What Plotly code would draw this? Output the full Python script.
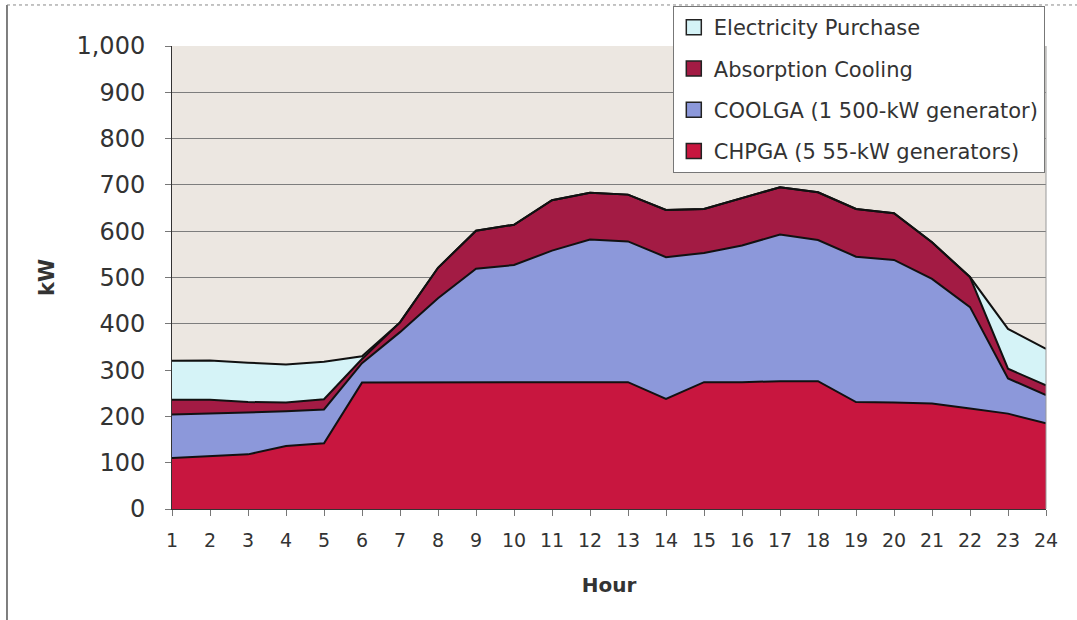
import plotly.graph_objects as go

hours = list(range(1, 25))

chpga = [110, 114, 118, 136, 142, 273, 273, 273, 273, 273, 273, 274,
         274, 238, 274, 274, 276, 276, 231, 230, 228, 217, 206, 185]
coolga = [94, 92, 90, 75, 73, 42, 109, 182, 246, 254, 285, 308,
          304, 306, 279, 295, 317, 305, 314, 308, 269, 219, 76, 61]
absorption = [32, 30, 23, 19, 22, 9, 21, 66, 82, 87, 109, 101,
              101, 102, 95, 103, 102, 103, 103, 101, 79, 65, 21, 21]
electricity = [84, 85, 85, 82, 81, 6, 0, 0, 0, 0, 0, 0,
               0, 0, 0, 0, 0, 0, 0, 0, 0, 0, 86, 79]

# bottom to top, as stacked
series = [
    ("CHPGA (5 55-kW generators)", chpga, "#c8163f"),
    ("COOLGA (1 500-kW generator)", coolga, "#8c98da"),
    ("Absorption Cooling", absorption, "#a31b44"),
    ("Electricity Purchase", electricity, "#d5f3f7"),
]

fig = go.Figure()
for name, vals, color in series:
    fig.add_trace(
        go.Scatter(
            x=hours,
            y=vals,
            name=name,
            mode="lines",
            stackgroup="one",
            showlegend=False,
            line={"color": "#111111", "width": 2},
            fillcolor=color,
            hoverinfo="x+y+name",
        )
    )

# square legend swatches, listed top to bottom
for name, vals, color in reversed(series):
    fig.add_trace(
        go.Scatter(
            x=[None],
            y=[None],
            name=name,
            mode="markers",
            legendgroup=name,
            marker={"symbol": "square", "size": 15, "color": color,
                    "line": {"color": "#222222", "width": 1.5}},
        )
    )

font_family = "DejaVu Sans, Arial"
grey_text = "#333333"

fig.update_layout(
    width=1077,
    height=620,
    margin={"l": 172, "r": 31, "t": 46, "b": 111, "autoexpand": False},
    paper_bgcolor="white",
    plot_bgcolor="#ece7e1",
    showlegend=True,
    legend={
        "x": 0.573,
        "y": 1.0864,
        "xanchor": "left",
        "yanchor": "top",
        "traceorder": "grouped",
        "tracegroupgap": 11,
        "bgcolor": "white",
        "bordercolor": "#777777",
        "borderwidth": 1,
        "font": {"family": font_family, "size": 21, "color": grey_text},
    },
    xaxis={
        "range": [1, 24],
        "tickmode": "array",
        "tickvals": hours,
        "ticktext": [str(h) for h in hours],
        "ticks": "outside",
        "ticklen": 6,
        "tickcolor": "#777777",
        "ticklabelstandoff": 8,
        "showgrid": False,
        "showline": True,
        "linecolor": "#333333",
        "tickfont": {"family": font_family, "size": 19, "color": grey_text},
        "title": {"text": "<b>Hour</b>",
                  "font": {"family": font_family, "size": 20, "color": grey_text},
                  "standoff": 28},
        "zeroline": False,
    },
    yaxis={
        "range": [0, 1000],
        "dtick": 100,
        "tickformat": ",d",
        "ticks": "outside",
        "ticklen": 6,
        "tickcolor": "#777777",
        "ticklabelstandoff": 15,
        "showgrid": True,
        "gridcolor": "#7d7d7d",
        "gridwidth": 1,
        "showline": True,
        "linecolor": "#333333",
        "tickfont": {"family": font_family, "size": 24, "color": grey_text},
        "title": {"text": "<b>kW</b>",
                  "font": {"family": font_family, "size": 21, "color": grey_text},
                  "standoff": 16},
        "zeroline": False,
    },
    shapes=[
        dict(type="line", xref="paper", yref="paper", x0=-0.1888, x1=-0.1888,
             y0=1.0886, y1=-0.25, line={"color": "#555555", "width": 1.5}),
        dict(type="line", xref="paper", yref="paper", x0=-0.1888, x1=1.04,
             y0=1.0886, y1=1.0886, line={"color": "#888888", "width": 1, "dash": "dot"}),
        dict(type="line", xref="paper", yref="paper", x0=1, x1=1,
             y0=0, y1=1, line={"color": "#999999", "width": 1}),
    ],
)

fig.write_html(
    "out.html",
    config={"displayModeBar": False},
    post_script="document.body.style.margin='0';",
)
